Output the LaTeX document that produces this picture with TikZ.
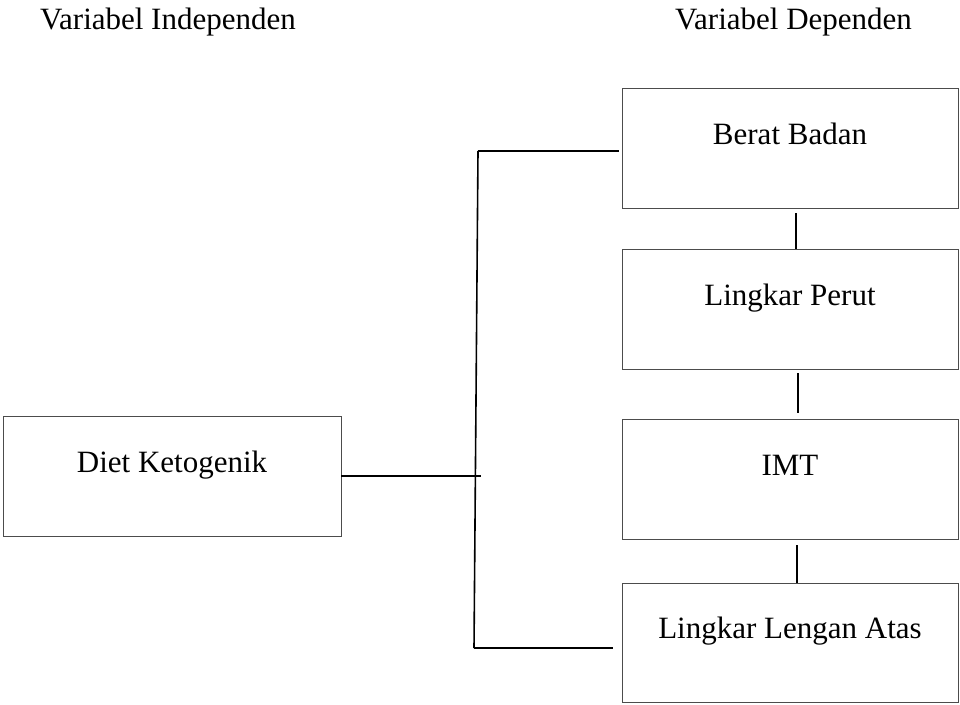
\documentclass[tikz,border=0pt]{standalone}
\usepackage{fontspec}
\setmainfont{Liberation Serif}
\usepackage{tikz}

\begin{document}
\begin{tikzpicture}[x=1pt, y=-1pt,
  varbox/.style={draw=black!70, line width=0.9pt, minimum width=336pt, minimum height=120pt,
    text height=22pt, text depth=30pt, font=\fontsize{31pt}{37pt}\selectfont},
  judul/.style={anchor=base west, inner sep=0pt, font=\fontsize{31pt}{37pt}\selectfont},
  garis/.style={line width=1.6pt}]
\useasboundingbox (0,0) rectangle (960,704);

\node[judul] (indep) at (40,29) {Variabel Independen};
\node[judul] (dep) at (675,29) {Variabel Dependen};

\node[varbox, minimum width=338pt] (diet) at (172,476) {Diet Ketogenik};
\node[varbox] (bb) at (790,148) {Berat Badan};
\node[varbox] (lp) at (790,309) {Lingkar Perut};
\node[varbox] (imt) at (790,479) {IMT};
\node[varbox, minimum height=119pt] (lla) at (790,642.5) {Lingkar Lengan Atas};

\coordinate (bustop) at (478,151);
\coordinate (busmid) at (481,476);
\coordinate (busbot) at (474,648);

\draw[garis] (bustop) -- (busbot);
\draw[garis] (diet.east) -- (busmid);
\draw[garis, shorten >=3pt] (bustop) -- (bustop -| bb.west);
\draw[garis, shorten >=9pt] (busbot) -- (busbot -| lla.west);

\draw[garis, shorten <=5pt] ([xshift=6pt]bb.south) -- ([xshift=6pt]lp.north);
\draw[garis, shorten <=4pt, shorten >=6pt] ([xshift=8pt]lp.south) -- ([xshift=8pt]imt.north);
\draw[garis, shorten <=6pt] ([xshift=7pt]imt.south) -- ([xshift=7pt]lla.north);

\end{tikzpicture}
\end{document}
